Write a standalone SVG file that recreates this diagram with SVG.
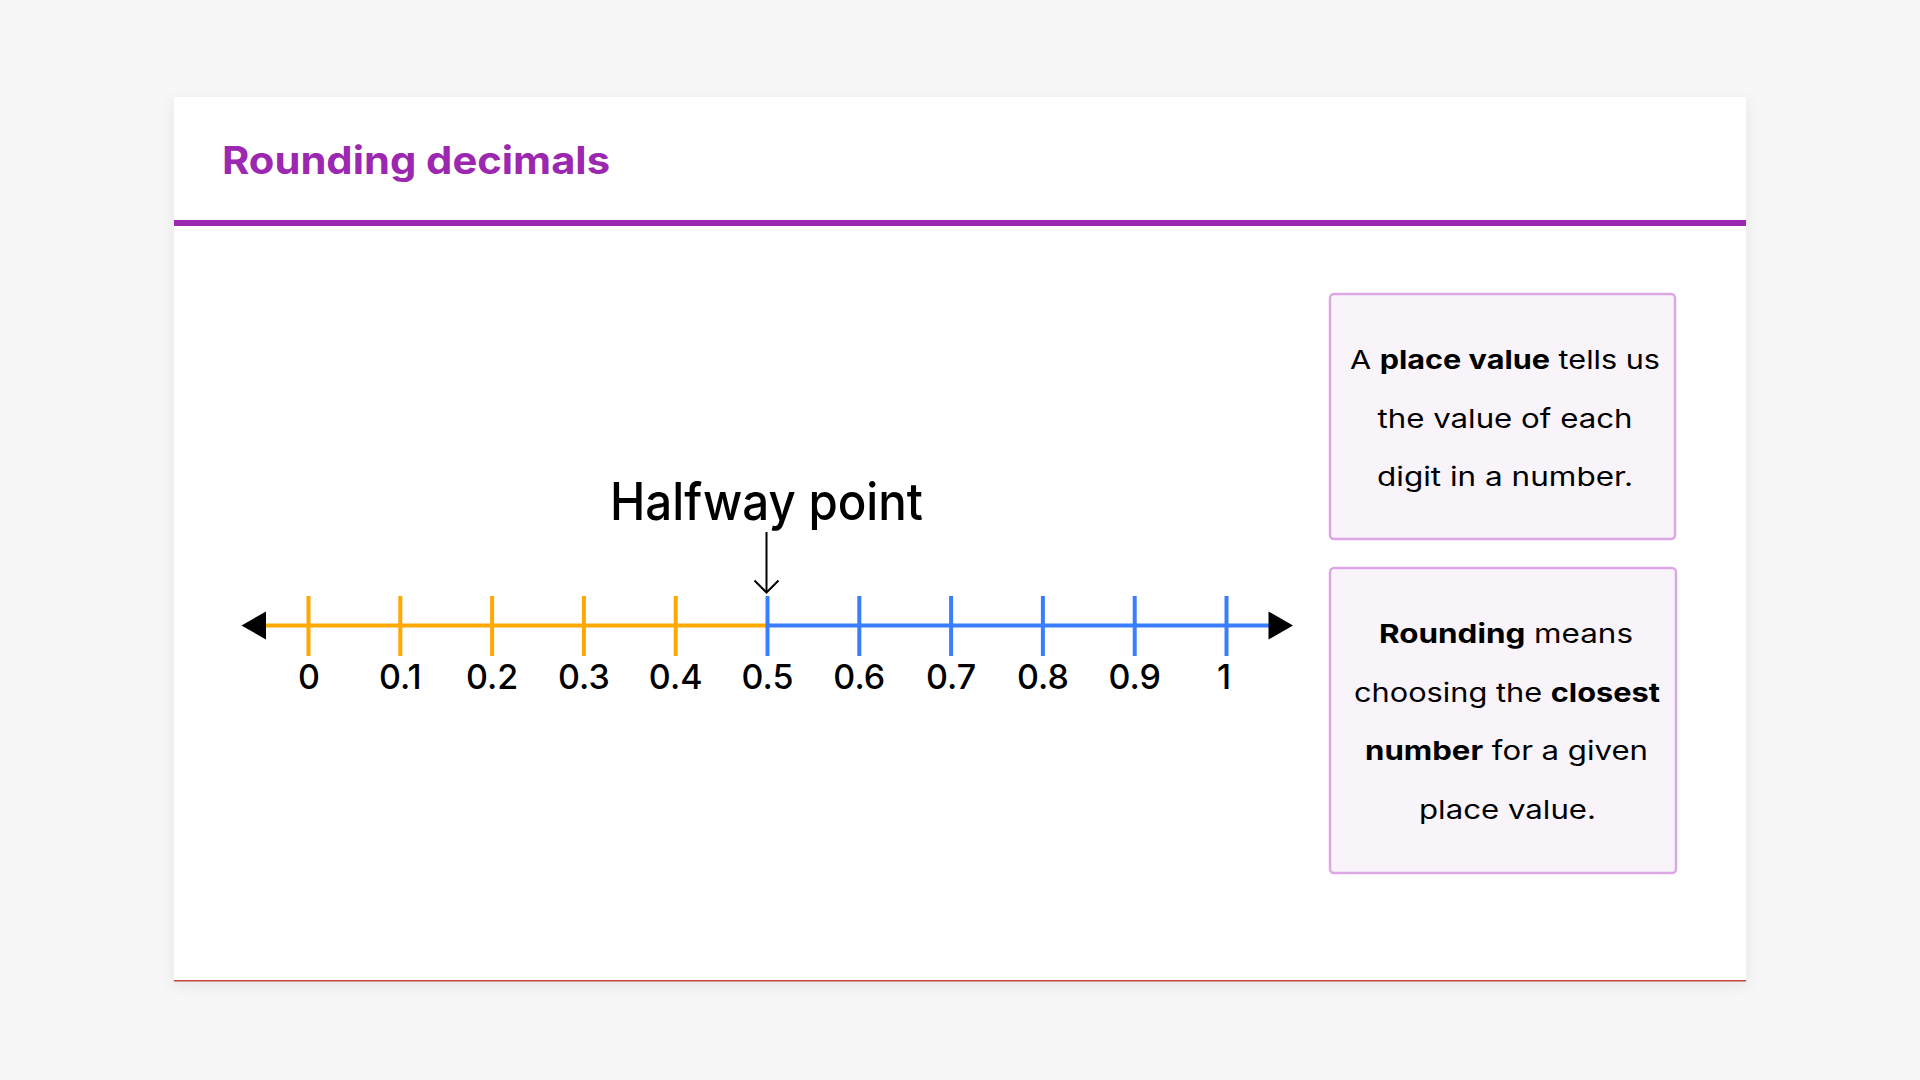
<svg xmlns="http://www.w3.org/2000/svg" width="1920" height="1080" viewBox="0 0 1920 1080">
  <defs>
    <filter id="shadow" x="-5%" y="-5%" width="110%" height="115%">
      <feDropShadow dx="0" dy="4" stdDeviation="8" flood-color="#000000" flood-opacity="0.08"/>
    </filter>
  </defs>
  <style>
    .page { fill: #f7f7f7; }
    .card { fill: #ffffff; }
    .title { font-family: Inter, "Noto Sans", "Liberation Sans", sans-serif; font-weight: 700; font-size: 38px; fill: #9c27b0; }
    .rule { fill: #9c27b0; }
    .axis-o { stroke: #ffa800; stroke-width: 4; fill: none; }
    .axis-b { stroke: #3a7dff; stroke-width: 4; fill: none; }
    .tick-o { stroke: #ffa800; stroke-width: 4; }
    .tick-b { stroke: #3a7dff; stroke-width: 4; }
    .num { font-family: Inter, "Noto Sans", "Liberation Sans", sans-serif; font-size: 34px; font-weight: 500; fill: #000; text-anchor: middle; }
    .half { font-family: Inter, "Noto Sans", "Liberation Sans", sans-serif; font-size: 52px; font-weight: 500; fill: #000; text-anchor: middle; }
    .box { fill: #f8f4fa; stroke: #dca7e4; stroke-width: 2.5; }
    .btxt { font-family: Inter, "Noto Sans", "Liberation Sans", sans-serif; font-size: 26px; fill: #000; text-anchor: middle; }
    .b { font-weight: 700; }
    .pointer { stroke: #000; stroke-width: 2; fill: none; }
  </style>

  <rect class="page" x="0" y="0" width="1920" height="1080"/>

  <g id="card">
    <rect class="card" x="174" y="97" width="1572" height="884" filter="url(#shadow)"/>
    <rect x="174" y="980" width="1572" height="1.5" fill="#c8453c"/>
  </g>

  <g id="title">
    <text class="title" x="222" y="174" textLength="388" lengthAdjust="spacingAndGlyphs">Rounding decimals</text>
    <rect class="rule" x="174" y="220" width="1572" height="6"/>
  </g>

  <g id="number-line">
    <line class="axis-o" x1="264" y1="625.5" x2="766.5" y2="625.5"/>
    <line class="axis-b" x1="766.5" y1="625.5" x2="1270" y2="625.5"/>
    <polygon points="241.5,625.5 266,611.5 266,639.5" fill="#000"/>
    <polygon points="1293,625.5 1268.5,611.5 1268.5,639.5" fill="#000"/>
    <g id="ticks">
      <line class="tick-o" x1="308.5" y1="596" x2="308.5" y2="656"/>
      <line class="tick-o" x1="400.3" y1="596" x2="400.3" y2="656"/>
      <line class="tick-o" x1="492.1" y1="596" x2="492.1" y2="656"/>
      <line class="tick-o" x1="583.9" y1="596" x2="583.9" y2="656"/>
      <line class="tick-o" x1="675.7" y1="596" x2="675.7" y2="656"/>
      <line class="tick-b" x1="767.5" y1="596" x2="767.5" y2="656"/>
      <line class="tick-b" x1="859.3" y1="596" x2="859.3" y2="656"/>
      <line class="tick-b" x1="951.1" y1="596" x2="951.1" y2="656"/>
      <line class="tick-b" x1="1042.9" y1="596" x2="1042.9" y2="656"/>
      <line class="tick-b" x1="1134.7" y1="596" x2="1134.7" y2="656"/>
      <line class="tick-b" x1="1226.5" y1="596" x2="1226.5" y2="656"/>
    </g>
    <g id="labels">
      <text class="num" x="309" y="689">0</text>
      <text class="num" x="400.3" y="689">0.1</text>
      <text class="num" x="492.1" y="689">0.2</text>
      <text class="num" x="583.9" y="689">0.3</text>
      <text class="num" x="675.7" y="689">0.4</text>
      <text class="num" x="767.5" y="689">0.5</text>
      <text class="num" x="859.3" y="689">0.6</text>
      <text class="num" x="951.1" y="689">0.7</text>
      <text class="num" x="1042.9" y="689">0.8</text>
      <text class="num" x="1134.7" y="689">0.9</text>
      <text class="num" x="1224" y="689">1</text>
    </g>
  </g>

  <g id="halfway">
    <text class="half" x="766.5" y="520" textLength="313" lengthAdjust="spacingAndGlyphs">Halfway point</text>
  </g>

  <g id="connectors">
    <line class="pointer" x1="766.5" y1="532" x2="766.5" y2="592"/>
    <polyline class="pointer" points="754.5,580.5 766.5,592.5 778.5,580.5"/>
  </g>

  <g id="box-place-value">
    <rect class="box" x="1330" y="294" width="345" height="245" rx="4"/>
    <text class="btxt" x="1505" y="369" textLength="310" lengthAdjust="spacingAndGlyphs">A <tspan class="b">place value</tspan> tells us</text>
    <text class="btxt" x="1505" y="427.5" textLength="255" lengthAdjust="spacingAndGlyphs">the value of each</text>
    <text class="btxt" x="1505" y="486" textLength="256" lengthAdjust="spacingAndGlyphs">digit in a number.</text>
  </g>

  <g id="box-rounding">
    <rect class="box" x="1330" y="568" width="346" height="305" rx="4"/>
    <text class="btxt" x="1506" y="643" textLength="254" lengthAdjust="spacingAndGlyphs"><tspan class="b">Rounding</tspan> means</text>
    <text class="btxt" x="1507" y="701.5" textLength="306" lengthAdjust="spacingAndGlyphs">choosing the <tspan class="b">closest</tspan></text>
    <text class="btxt" x="1506.5" y="760" textLength="283" lengthAdjust="spacingAndGlyphs"><tspan class="b">number</tspan> for a given</text>
    <text class="btxt" x="1507.5" y="818.5" textLength="177" lengthAdjust="spacingAndGlyphs">place value.</text>
  </g>
</svg>
